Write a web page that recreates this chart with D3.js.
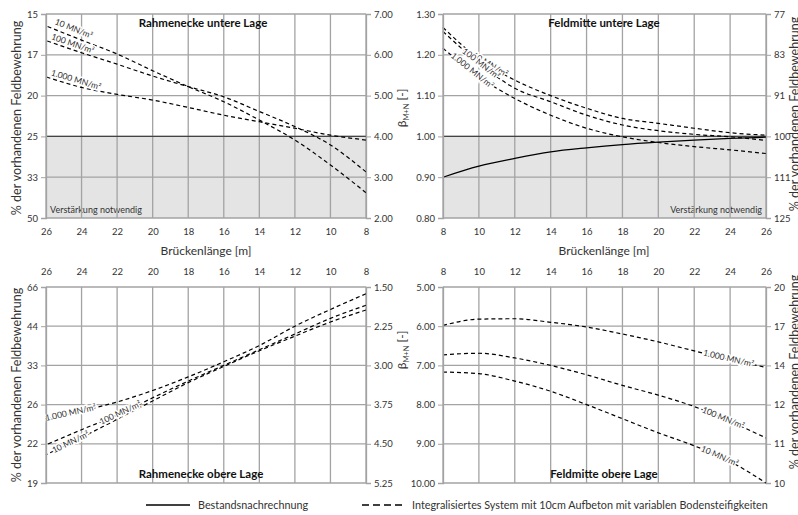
<!DOCTYPE html>
<html>
<head>
<meta charset="utf-8">
<script src="https://cdn.jsdelivr.net/npm/d3@7"></script>
<style>
  body { margin: 0; background: #fff; }
  svg { font-family: Lato, "Open Sans", sans-serif; }
</style>
</head>
<body>
<svg id="chart" width="798" height="515"></svg>
<script>
// bridge length [m]
const lengths = [8, 10, 12, 14, 16, 18, 20, 22, 24, 26];

// Rahmenecke untere Lage, beta values for 8 ... 26 m
const tlSoil10   = [2.62, 3.30, 3.91, 4.40, 4.85, 5.22, 5.61, 6.02, 6.36, 6.71];
const tlSoil100  = [3.13, 3.79, 4.24, 4.61, 4.97, 5.22, 5.48, 5.77, 6.05, 6.35];
const tlSoil1000 = [3.91, 4.03, 4.20, 4.36, 4.52, 4.71, 4.89, 5.03, 5.20, 5.46];
const tlTicks = [7, 6, 5, 4, 3, 2];
const tlPercent = ["15", "17", "20", "25", "33", "50"];

// Feldmitte untere Lage
const trExisting = [0.900, 0.927, 0.946, 0.962, 0.972, 0.980, 0.986, 0.991, 0.995, 0.998];
const trSoil10   = [1.267, 1.190, 1.138, 1.100, 1.069, 1.044, 1.032, 1.020, 1.009, 1.003];
const trSoil100  = [1.257, 1.180, 1.118, 1.085, 1.052, 1.028, 1.014, 1.005, 0.999, 0.990];
const trSoil1000 = [1.216, 1.146, 1.093, 1.052, 1.020, 0.999, 0.985, 0.975, 0.967, 0.958];
const trTicks = [1.3, 1.2, 1.1, 1.0, 0.9, 0.8];
const trPercent = ["77", "83", "91", "100", "111", "125"];

// Rahmenecke obere Lage
const blSoil10   = [1.94, 2.17, 2.44, 2.72, 3.02, 3.33, 3.68, 4.03, 4.38, 4.71];
const blSoil100  = [1.85, 2.10, 2.40, 2.70, 3.00, 3.30, 3.62, 3.95, 4.23, 4.52];
const blSoil1000 = [1.63, 1.93, 2.25, 2.62, 2.93, 3.22, 3.48, 3.70, 3.87, 4.02];
const blTicks = [1.5, 2.25, 3, 3.75, 4.5, 5.25];
const blPercent = ["66", "44", "33", "26", "22", "19"];

// Feldmitte obere Lage
const brSoil10   = [7.17, 7.21, 7.40, 7.66, 8.00, 8.36, 8.72, 9.05, 9.45, 10.0];
const brSoil100  = [6.73, 6.69, 6.81, 7.00, 7.24, 7.51, 7.76, 8.05, 8.43, 8.85];
const brSoil1000 = [5.98, 5.82, 5.81, 5.90, 6.02, 6.20, 6.40, 6.63, 6.85, 7.05];
const brTicks = [5, 6, 7, 8, 9, 10];
const brPercent = ["20", "17", "14", "12", "11", "10"];

const svg = d3.select("#chart");
const f2 = d3.format(".2f");
const gridColor = "#a3a3a3";
const textColor = "#333";

function drawPanel(p) {
  const x = d3.scaleLinear().domain(p.xDomain).range([p.left, p.right]);
  const y = d3.scaleLinear().domain([p.yTicks[0], p.yTicks[p.yTicks.length - 1]]).range([p.top, p.bottom]);
  const g = svg.append("g");

  // area where strengthening is required
  if (p.limit !== undefined) {
    g.append("rect")
      .attr("x", p.left).attr("width", p.right - p.left)
      .attr("y", y(p.limit)).attr("height", p.bottom - y(p.limit))
      .attr("fill", "#e4e4e4");
    g.append("text")
      .attr("x", p.noteRight ? p.right - 4 : p.left + 4)
      .attr("y", p.bottom - 5)
      .attr("text-anchor", p.noteRight ? "end" : "start")
      .attr("font-size", 9).attr("fill", textColor)
      .text("Verstärkung notwendig");
  }

  // grid
  g.selectAll(".vg").data(lengths).join("line")
    .attr("x1", d => x(d)).attr("x2", d => x(d))
    .attr("y1", p.top).attr("y2", p.bottom)
    .attr("stroke", gridColor).attr("stroke-width", 1.3);
  g.selectAll(".hg").data(p.yTicks).join("line")
    .attr("x1", p.left).attr("x2", p.right)
    .attr("y1", d => y(d)).attr("y2", d => y(d))
    .attr("stroke", gridColor).attr("stroke-width", 1.3);

  if (p.limit !== undefined) {
    g.append("line")
      .attr("x1", p.left).attr("x2", p.right)
      .attr("y1", y(p.limit)).attr("y2", y(p.limit))
      .attr("stroke", "#444").attr("stroke-width", 1.4);
  }

  const line = d3.line().x((d, i) => x(lengths[i])).y(d => y(d)).curve(d3.curveMonotoneX);

  p.series.forEach(s => {
    g.append("path")
      .attr("d", line(s.values))
      .attr("fill", "none")
      .attr("stroke", "#000")
      .attr("stroke-width", 1.2)
      .attr("stroke-dasharray", s.dashed ? "4,3" : null);
  });

  // labels along the lines
  p.labels.forEach(l => {
    const vals = l.values;
    const at = d3.scaleLinear().domain(lengths).range(vals);
    const x0 = x(l.at - 0.4), y0 = y(at(l.at - 0.4));
    const x1 = x(l.at + 0.4), y1 = y(at(l.at + 0.4));
    const ang = Math.atan2(y1 - y0, x1 - x0) * 180 / Math.PI;
    const a = (ang > 90 || ang < -90) ? ang + 180 : ang;
    const px = x(l.at), py = y(at(l.at));
    g.append("text")
      .attr("transform", `translate(${px},${py}) rotate(${a})`)
      .attr("y", l.dy)
      .attr("text-anchor", "middle")
      .attr("dominant-baseline", "middle")
      .attr("font-size", 8.5)
      .attr("fill", textColor)
      .attr("stroke", "#fff").attr("stroke-width", 3)
      .attr("paint-order", "stroke")
      .text(l.text);
  });

  // y axes
  const leftAxis = d3.axisLeft(y).tickValues(p.yTicks).tickSize(5).tickPadding(3)
    .tickFormat((d, i) => p.leftLabels ? p.leftLabels[i] : f2(d));
  const rightAxis = d3.axisRight(y).tickValues(p.yTicks).tickSize(5).tickPadding(3)
    .tickFormat((d, i) => p.rightLabels ? p.rightLabels[i] : f2(d));
  [[leftAxis, p.left], [rightAxis, p.right]].forEach(([ax, pos]) => {
    const a = g.append("g").attr("transform", `translate(${pos},0)`).call(ax);
    a.select(".domain").attr("stroke", gridColor).attr("stroke-width", 1.3);
    a.selectAll(".tick line").attr("stroke", gridColor);
    a.selectAll(".tick text").attr("font-size", 9.5).attr("fill", textColor)
      .attr("font-family", "Lato, sans-serif");
  });

  // x axis labels
  const xAxis = (p.xAxisTop ? d3.axisTop(x) : d3.axisBottom(x))
    .tickValues(lengths).tickSize(0).tickPadding(p.xAxisTop ? 12 : 10);
  const xa = g.append("g").attr("transform", `translate(0,${p.xAxisTop ? p.top : p.bottom})`).call(xAxis);
  xa.select(".domain").remove();
  xa.selectAll(".tick text").attr("font-size", 9.5).attr("fill", textColor)
    .attr("font-family", "Lato, sans-serif");

  // panel title
  g.append("text")
    .attr("x", p.titleX).attr("y", p.titleY)
    .attr("text-anchor", "middle")
    .attr("font-size", 11.5).attr("font-weight", "bold").attr("fill", "#111")
    .text(p.title);
}

function percentTitle(xPos, yPos) {
  svg.append("text")
    .attr("transform", `translate(${xPos},${yPos}) rotate(-90)`)
    .attr("text-anchor", "middle")
    .attr("font-size", 12.5).attr("fill", textColor)
    .text("% der vorhandenen Feldbewehrung");
}

function betaTitle(xPos, yPos) {
  const t = svg.append("text")
    .attr("transform", `translate(${xPos},${yPos}) rotate(-90)`)
    .attr("text-anchor", "middle")
    .attr("font-size", 12).attr("fill", textColor);
  t.append("tspan").text("β");
  t.append("tspan").attr("font-size", 7.5).attr("dy", 2.5).text("M+N");
  t.append("tspan").attr("dy", -2.5).text(" [-]");
}

drawPanel({
  left: 46, right: 366, top: 14, bottom: 218,
  xDomain: [26, 8], yTicks: tlTicks, leftLabels: tlPercent, rightLabels: null,
  limit: 4, noteRight: false,
  series: [
    { values: tlSoil10, dashed: true },
    { values: tlSoil100, dashed: true },
    { values: tlSoil1000, dashed: true }
  ],
  labels: [
    { values: tlSoil10, at: 24.6, dy: -7, text: "10 MN/m²" },
    { values: tlSoil100, at: 24.6, dy: -5, text: "100 MN/m²" },
    { values: tlSoil1000, at: 24.4, dy: -5, text: "1.000 MN/m²" }
  ],
  title: "Rahmenecke untere Lage", titleX: 203, titleY: 27
});

drawPanel({
  left: 443, right: 766, top: 14, bottom: 218,
  xDomain: [8, 26], yTicks: trTicks, leftLabels: null, rightLabels: trPercent,
  limit: 1.0, noteRight: true,
  series: [
    { values: trExisting, dashed: false },
    { values: trSoil10, dashed: true },
    { values: trSoil100, dashed: true },
    { values: trSoil1000, dashed: true }
  ],
  labels: [
    { values: trSoil10, at: 10.6, dy: 0, text: "10 MN/m²" },
    { values: trSoil100, at: 10.1, dy: 0, text: "100 MN/m²" },
    { values: trSoil1000, at: 9.6, dy: 0, text: "1.000 MN/m²" }
  ],
  title: "Feldmitte untere Lage", titleX: 604, titleY: 27
});

drawPanel({
  left: 46, right: 366, top: 287, bottom: 483,
  xDomain: [26, 8], yTicks: blTicks, leftLabels: blPercent, rightLabels: null,
  xAxisTop: true,
  series: [
    { values: blSoil10, dashed: true },
    { values: blSoil100, dashed: true },
    { values: blSoil1000, dashed: true }
  ],
  labels: [
    { values: blSoil10, at: 24.6, dy: 0, text: "10 MN/m²" },
    { values: blSoil100, at: 21.8, dy: 0, text: "100 MN/m²" },
    { values: blSoil1000, at: 24.6, dy: 0, text: "1.000 MN/m²" }
  ],
  title: "Rahmenecke obere Lage", titleX: 201, titleY: 478
});

drawPanel({
  left: 443, right: 766, top: 287, bottom: 483,
  xDomain: [8, 26], yTicks: brTicks, leftLabels: null, rightLabels: brPercent,
  xAxisTop: true,
  series: [
    { values: brSoil10, dashed: true },
    { values: brSoil100, dashed: true },
    { values: brSoil1000, dashed: true }
  ],
  labels: [
    { values: brSoil10, at: 23.4, dy: 0, text: "10 MN/m²" },
    { values: brSoil100, at: 23.6, dy: 0, text: "100 MN/m²" },
    { values: brSoil1000, at: 23.9, dy: 0, text: "1.000 MN/m²" }
  ],
  title: "Feldmitte obere Lage", titleX: 604, titleY: 478
});

// axis titles
svg.append("text").attr("x", 206).attr("y", 255).attr("text-anchor", "middle")
  .attr("font-size", 12).attr("fill", textColor).text("Brückenlänge [m]");
svg.append("text").attr("x", 604).attr("y", 255).attr("text-anchor", "middle")
  .attr("font-size", 12).attr("fill", textColor).text("Brückenlänge [m]");
percentTitle(21, 118);
percentTitle(21, 385);
percentTitle(799, 114);
percentTitle(799, 372);
betaTitle(406, 108);
betaTitle(406, 350);

// legend
const legend = svg.append("g").attr("font-size", 10.8).attr("fill", textColor);
legend.append("line").attr("x1", 146).attr("x2", 190).attr("y1", 505).attr("y2", 505)
  .attr("stroke", "#000").attr("stroke-width", 1.3);
legend.append("text").attr("x", 198).attr("y", 509).text("Bestandsnachrechnung");
legend.append("line").attr("x1", 362).attr("x2", 405).attr("y1", 505).attr("y2", 505)
  .attr("stroke", "#000").attr("stroke-width", 1.3).attr("stroke-dasharray", "7,4");
legend.append("text").attr("x", 412).attr("y", 509)
  .text("Integralisiertes System mit 10cm Aufbeton mit variablen Bodensteifigkeiten");
</script>
</body>
</html>
